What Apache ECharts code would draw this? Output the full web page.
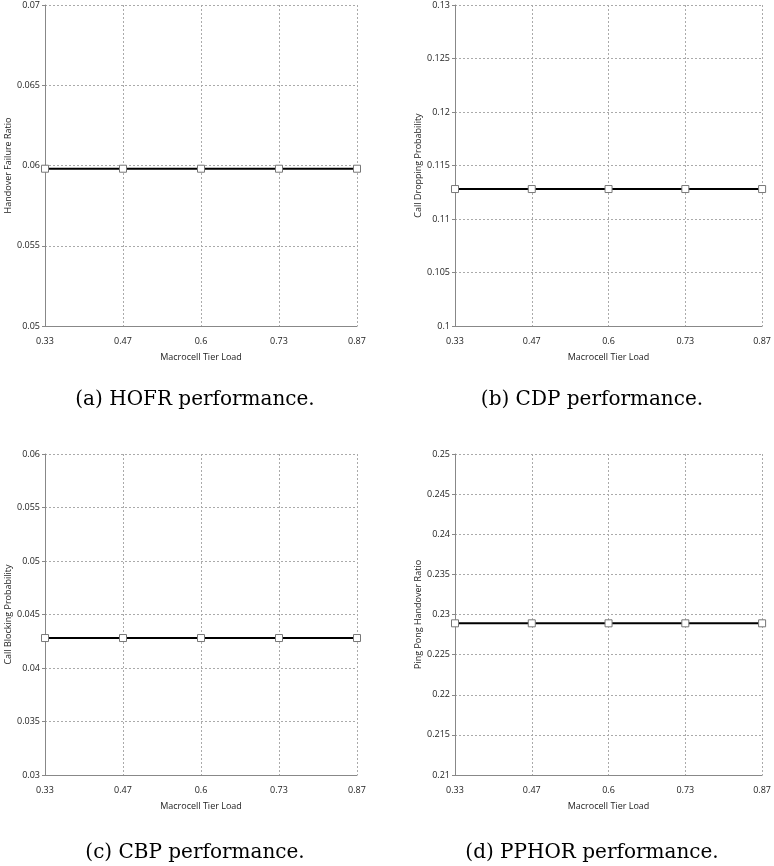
<!DOCTYPE html>
<html>
<head>
<meta charset="utf-8">
<script src="https://cdn.jsdelivr.net/npm/echarts@6/dist/echarts.min.js"></script>
<style>
html,body{margin:0;padding:0;background:#fff;}
#chart{width:774px;height:866px;}
</style>
</head>
<body>
<div id="chart"></div>
<script>
// Data
var loads = ['0.33', '0.47', '0.6', '0.73', '0.87'];
var hofr = [0.0598, 0.0598, 0.0598, 0.0598, 0.0598];
var cdp = [0.1128, 0.1128, 0.1128, 0.1128, 0.1128];
var cbp = [0.0428, 0.0428, 0.0428, 0.0428, 0.0428];
var pphor = [0.2289, 0.2289, 0.2289, 0.2289, 0.2289];
var yNames = ['Handover Failure Ratio', 'Call Dropping Probability', 'Call Blocking Probability', 'Ping Pong Handover Ratio'];
var captions = ['(a) HOFR performance.', '(b) CDP performance.', '(c) CBP performance.', '(d) PPHOR performance.'];
var yRanges = [[0.05, 0.07, 0.005], [0.1, 0.13, 0.005], [0.03, 0.06, 0.005], [0.21, 0.25, 0.005]];
var seriesData = [hofr, cdp, cbp, pphor];

var grids = [
  {left: 45, top: 5, width: 312, height: 321},
  {left: 455, top: 5, width: 312, height: 321},
  {left: 45, top: 454, width: 312, height: 321},
  {left: 455, top: 454, width: 312, height: 321}
];
var captionPos = [[190, 385], [587, 385], [190, 838], [587, 838]];
var labelFont = '"Open Sans", "Liberation Sans", sans-serif';

var option = {
  animation: false,
  backgroundColor: '#ffffff',
  title: captions.map(function (c, i) {
    return {
      text: c, left: captionPos[i][0], top: captionPos[i][1], textAlign: 'center',
      textStyle: {fontFamily: '"DejaVu Serif", serif', fontSize: 20, fontWeight: 'normal', color: '#000'}
    };
  }),
  grid: grids,
  xAxis: grids.map(function (g, i) {
    return {
      type: 'category', gridIndex: i, data: loads, boundaryGap: false,
      name: 'Macrocell Tier Load', nameLocation: 'middle', nameGap: 27,
      nameTextStyle: {fontFamily: labelFont, fontSize: 9, color: '#222'},
      axisLine: {lineStyle: {color: '#888', width: 1}},
      axisTick: {show: false},
      axisLabel: {fontFamily: labelFont, fontSize: 9, color: '#222', margin: 11},
      splitLine: {show: true, lineStyle: {color: '#aaa', type: [2, 2], width: 1}}
    };
  }),
  yAxis: grids.map(function (g, i) {
    return {
      type: 'value', gridIndex: i, min: yRanges[i][0], max: yRanges[i][1], interval: yRanges[i][2],
      name: yNames[i], nameLocation: 'middle', nameGap: 23, nameRotate: 90,
      nameTextStyle: {fontFamily: labelFont, fontSize: 9, color: '#222'},
      axisLine: {show: true, lineStyle: {color: '#888', width: 1}},
      axisTick: {show: true, length: 3, lineStyle: {color: '#888'}},
      axisLabel: {fontFamily: labelFont, fontSize: 9, color: '#222', margin: 5},
      splitLine: {show: true, lineStyle: {color: '#aaa', type: [2, 2], width: 1}}
    };
  }),
  series: seriesData.map(function (d, i) {
    return {
      type: 'line', xAxisIndex: i, yAxisIndex: i, data: d,
      symbol: 'rect', symbolSize: 7,
      itemStyle: {color: '#ffffff', borderColor: '#777', borderWidth: 1},
      lineStyle: {color: '#000', width: 2},
      z: 3
    };
  })
};

var chart = echarts.init(document.getElementById('chart'), null, {renderer: 'canvas'});
chart.setOption(option);
</script>
</body>
</html>
